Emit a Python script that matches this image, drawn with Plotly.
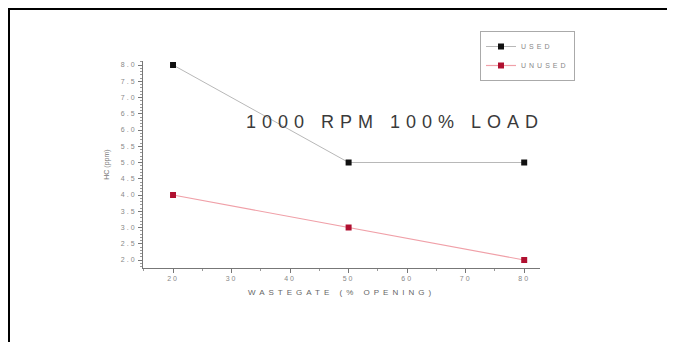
import plotly.graph_objects as go

# ---- data ----
wastegate = [20, 50, 80]
used = [8.0, 5.0, 5.0]
unused = [4.0, 3.0, 2.0]
x_ticks = [20, 30, 40, 50, 60, 70, 80]
y_ticks = [2.0, 2.5, 3.0, 3.5, 4.0, 4.5, 5.0, 5.5, 6.0, 6.5, 7.0, 7.5, 8.0]
y_tick_labels = ["2.0", "2.5", "3.0", "3.5", "4.0", "4.5", "5.0", "5.5", "6.0", "6.5", "7.0", "7.5", "8.0"]
chart_title = "1000 RPM 100% LOAD"
x_title = "WASTEGATE (% OPENING)"
y_title = "HC (ppm)"
series_names = ["USED", "UNUSED"]

OFF = 8  # page body margin
W, H = 667, 334
L, R, T, B = 135, 135, 53, 74
PW, PH = W - L - R, H - T - B


def px(xs):
    return (xs - OFF - L) / PW


def py(ys):
    return (H - B - (ys - OFF)) / PH


def spaced(s, sp):
    return f'<span style="letter-spacing:{sp}px">{s}</span>'


fig = go.Figure()
fig.add_trace(go.Scatter(
    x=wastegate, y=used, mode="lines+markers", name=spaced(series_names[0], 3),
    line=dict(color="#b8b8b8", width=1),
    marker=dict(symbol="square", size=6, color="#111111"),
))
fig.add_trace(go.Scatter(
    x=wastegate, y=unused, mode="lines+markers", name=spaced(series_names[1], 3),
    line=dict(color="#f0a0a8", width=1.2),
    marker=dict(symbol="square", size=6, color="#b01030"),
))

axis_font = dict(family="Liberation Sans, Arial", size=7, color="#888888")

fig.update_xaxes(
    range=[14.87, 82.7], tickvals=x_ticks, ticktext=[spaced(str(v), 2) for v in x_ticks],
    showline=True, linecolor="#777777", linewidth=1, ticks="outside", ticklen=4,
    tickcolor="#777777", showgrid=False, zeroline=False, tickfont=axis_font,
    minor=dict(dtick=5, ticks="outside", ticklen=2, tickcolor="#999999"),
    title=dict(text=spaced(x_title, 4), font=dict(family="Liberation Sans, Arial", size=8, color="#666666"), standoff=7),
)
fig.update_yaxes(
    range=[1.754, 8.123], tickvals=y_ticks, ticktext=[spaced(t, 2) for t in y_tick_labels],
    showline=True, linecolor="#777777", linewidth=1, ticks="outside", ticklen=4,
    tickcolor="#777777", showgrid=False, zeroline=False, tickfont=axis_font,
    minor=dict(dtick=0.1, ticks="outside", ticklen=2, tickcolor="#999999"),
    title=dict(text=y_title, font=dict(family="Liberation Sans, Arial", size=7, color="#777777"), standoff=10),
)

fig.update_layout(
    width=W, height=H, margin=dict(l=L, r=R, t=T, b=B, autoexpand=False),
    paper_bgcolor="white", plot_bgcolor="white",
    showlegend=True,
    legend=dict(x=px(480), y=py(31), xanchor="left", yanchor="top",
                bordercolor="#aaaaaa", borderwidth=1, bgcolor="white",
                font=dict(family="Liberation Sans, Arial", size=7, color="#888888"),
                itemwidth=30, tracegroupgap=0),
)

fig.add_annotation(
    x=px(395), y=py(110), xref="paper", yref="paper", showarrow=False,
    text=spaced(chart_title, 6),
    font=dict(family="Liberation Sans, Arial", size=18, color="#3a3a3a"),
)

# frame of the scanned figure
fig.add_shape(type="line", xref="paper", yref="paper", x0=px(9), x1=px(9), y0=py(8), y1=py(360),
              line=dict(color="black", width=2))
fig.add_shape(type="line", xref="paper", yref="paper", x0=px(8), x1=px(700), y0=py(9), y1=py(9),
              line=dict(color="black", width=2))

fig.write_html("out.html")
